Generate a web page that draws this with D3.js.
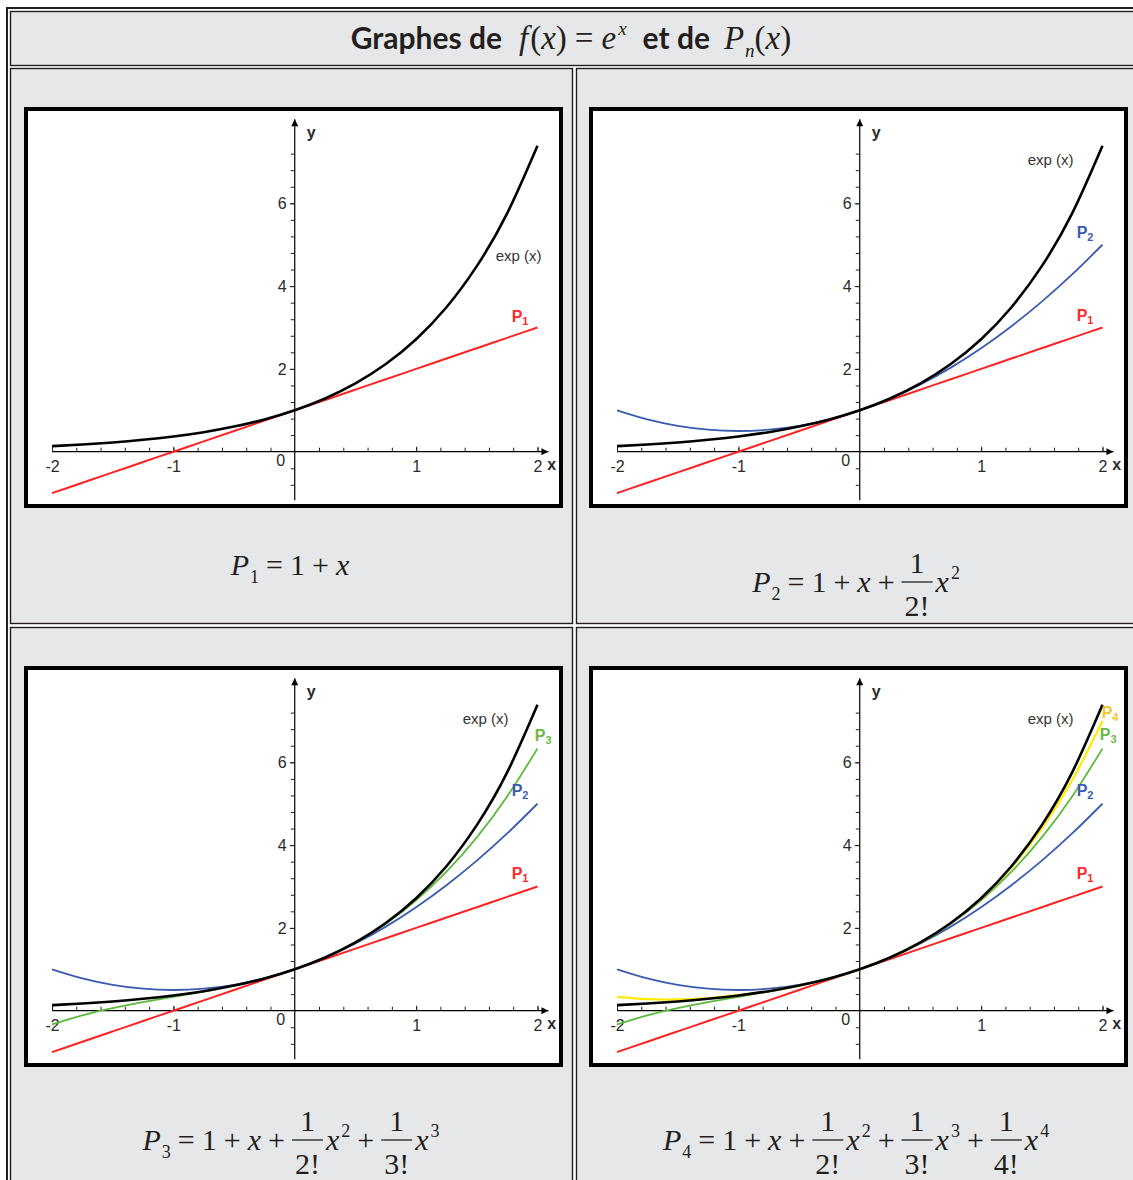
<!DOCTYPE html>
<html>
<head>
<meta charset="utf-8">
<script src="https://cdn.jsdelivr.net/npm/d3@7/dist/d3.min.js"></script>
<style>
  html, body { margin: 0; padding: 0; background: #ffffff; }
  svg { display: block; }
</style>
</head>
<body>
<svg id="chart" width="1133" height="1180"></svg>
<script>
// Sample abscissae shared by every curve
const xValues = [-2, -1.75, -1.5, -1.25, -1, -0.75, -0.5, -0.25, 0, 0.25, 0.5, 0.75, 1, 1.25, 1.5, 1.75, 2];

// f(x) = e^x
const expValues = [0.135, 0.174, 0.223, 0.287, 0.368, 0.472, 0.607, 0.779, 1.000, 1.284, 1.649, 2.117, 2.718, 3.490, 4.482, 5.755, 7.389];
// P1 = 1 + x
const p1Values = [-1, -0.75, -0.5, -0.25, 0, 0.25, 0.5, 0.75, 1, 1.25, 1.5, 1.75, 2, 2.25, 2.5, 2.75, 3];
// P2 = 1 + x + x²/2!
const p2Values = [1.000, 0.781, 0.625, 0.531, 0.500, 0.531, 0.625, 0.781, 1.000, 1.281, 1.625, 2.031, 2.500, 3.031, 3.625, 4.281, 5.000];
// P3 = P2 + x³/3!
const p3Values = [-0.333, -0.112, 0.063, 0.206, 0.333, 0.461, 0.604, 0.779, 1.000, 1.284, 1.646, 2.102, 2.667, 3.357, 4.188, 5.174, 6.333];
// P4 = P3 + x⁴/4!
const p4Values = [0.333, 0.279, 0.273, 0.307, 0.375, 0.474, 0.607, 0.779, 1.000, 1.284, 1.648, 2.115, 2.708, 3.458, 4.398, 5.565, 7.000];

// Axis tick labels
const xTickLabels = [-2, -1, 1, 2];
const yTickLabels = [2, 4, 6];

// Which curves each panel shows (drawing order)
const panelSeries = [
  ["P1", "exp"],
  ["P1", "P2", "exp"],
  ["P1", "P2", "P3", "exp"],
  ["P1", "P2", "P3", "P4", "exp"]
];

const seriesValues = { exp: expValues, P1: p1Values, P2: p2Values, P3: p3Values, P4: p4Values };

// ---- styles / placement ----
const seriesStyle = {
  exp: { color: "#000000", width: 2.6 },
  P1: { color: "#ff2222", width: 2 },
  P2: { color: "#3b5bb0", width: 1.8 },
  P3: { color: "#5cba3c", width: 1.8 },
  P4: { color: "#ffea00", width: 2.2 }
};
const labelColor = { P1: "#ff2a2a", P2: "#3b5bb0", P3: "#6cba45", P4: "#f7c52a" };

// curve labels, in data coordinates (left edge, vertical centre)
const labelPos = [
  { exp: [1.656, 4.73], P1: [1.787, 3.28] },
  { exp: [1.384, 7.05], P2: [1.787, 5.30], P1: [1.787, 3.30] },
  { exp: [1.384, 7.05], P3: [1.977, 6.66], P2: [1.787, 5.32], P1: [1.787, 3.33] },
  { exp: [1.384, 7.05], P4: [1.993, 7.22], P3: [1.977, 6.68], P2: [1.787, 5.32], P1: [1.787, 3.33] }
];

const panelOrigin = [[24, 107], [589, 107], [24, 666], [589, 666]];

const SANS = "'Liberation Sans', Arial, sans-serif";
const SERIF = "'Liberation Serif', 'Times New Roman', serif";
const HEAD = "Lato, 'Open Sans', sans-serif";
const INK = "#231f20";
const CELL = "#e6e7e8";

const svg = d3.select("#chart");

// ---- table frame ----
svg.append("rect").attr("x", 7).attr("y", 8).attr("width", 1200).attr("height", 1300)
  .attr("fill", "#ffffff").attr("stroke", INK).attr("stroke-width", 2);

const cells = [
  [10.5, 11.5, 1200, 54],
  [10.5, 68.5, 562, 555],
  [576.5, 68.5, 700, 555],
  [10.5, 627.5, 562, 700],
  [576.5, 627.5, 700, 700]
];
svg.selectAll("rect.cell").data(cells).join("rect").attr("class", "cell")
  .attr("x", d => d[0]).attr("y", d => d[1]).attr("width", d => d[2]).attr("height", d => d[3])
  .attr("fill", CELL).attr("stroke", INK).attr("stroke-width", 1.4);

// ---- simple inline math layout ----
function typeset(parent, tokens, cx, baseline, cfg) {
  const g = parent.append("g");
  let x = 0;
  const mk = (str, o) => g.append("text")
    .attr("font-family", o.font || SERIF)
    .attr("font-size", o.size || cfg.size)
    .attr("font-style", o.it ? "italic" : "normal")
    .attr("font-weight", o.bold ? "bold" : "normal")
    .attr("fill", cfg.fill)
    .text(str);
  tokens.forEach(tk => {
    if (tk.gap !== undefined) { x += tk.gap; return; }
    if (tk.frac) {
      const num = mk(tk.frac[0], {}), den = mk(tk.frac[1], {});
      const w = Math.max(num.node().getComputedTextLength(), den.node().getComputedTextLength()) + 6;
      num.attr("text-anchor", "middle").attr("x", x + w / 2).attr("y", -cfg.bar - cfg.numGap);
      den.attr("text-anchor", "middle").attr("x", x + w / 2).attr("y", -cfg.bar + cfg.denGap);
      g.append("line").attr("x1", x).attr("x2", x + w).attr("y1", -cfg.bar).attr("y2", -cfg.bar)
        .attr("stroke", cfg.fill).attr("stroke-width", 1.3);
      x += w + 3;
      return;
    }
    let el, dx = 0, dy = 0;
    if (tk.sub !== undefined) {
      el = mk(tk.sub, { it: tk.it, size: cfg.small }); dx = cfg.subDx; dy = cfg.subDy;
    } else if (tk.sup !== undefined) {
      el = mk(tk.sup, { it: tk.it, size: cfg.small }); dx = cfg.supDx; dy = cfg.supDy;
    } else {
      el = mk(tk.s, tk);
    }
    el.attr("x", x + dx).attr("y", dy);
    x += el.node().getComputedTextLength() + dx + (tk.after || 0);
  });
  g.attr("transform", `translate(${cx - x / 2},${baseline})`);
  return g;
}

// ---- title ----
typeset(svg, [
  { s: "Graphes de", font: HEAD, bold: true, size: 30 }, { gap: 17 },
  { s: "f", it: true, after: 2 }, { s: "(" }, { s: "x", it: true }, { s: ")" }, { gap: 8 },
  { s: "=" }, { gap: 8 }, { s: "e", it: true }, { sup: "x", it: true }, { gap: 16 },
  { s: "et de", font: HEAD, bold: true, size: 30 }, { gap: 14 },
  { s: "P", it: true }, { sub: "n", it: true }, { s: "(" }, { s: "x", it: true }, { s: ")" }
], 571, 49, { size: 33, small: 19, fill: INK, subDx: 1, subDy: 8, supDx: 2, supDy: -14, bar: 10, numGap: 8, denGap: 32 });

// ---- formulas under each panel ----
const mathCfg = { size: 30, small: 18, fill: "#231f20", subDx: 1, subDy: 8, supDx: 2, supDy: -13, bar: 10, numGap: 9, denGap: 34 };
const op = s => [{ gap: 7 }, { s }, { gap: 7 }];
const formulas = [
  { cx: 290, base: 575, tokens: [{ s: "P", it: true }, { sub: "1" }, ...op("="), { s: "1" }, ...op("+"), { s: "x", it: true }] },
  { cx: 856, base: 592, tokens: [{ s: "P", it: true }, { sub: "2" }, ...op("="), { s: "1" }, ...op("+"), { s: "x", it: true }, ...op("+"),
      { frac: ["1", "2!"] }, { s: "x", it: true }, { sup: "2" }] },
  { cx: 291, base: 1150, tokens: [{ s: "P", it: true }, { sub: "3" }, ...op("="), { s: "1" }, ...op("+"), { s: "x", it: true }, ...op("+"),
      { frac: ["1", "2!"] }, { s: "x", it: true }, { sup: "2" }, ...op("+"), { frac: ["1", "3!"] }, { s: "x", it: true }, { sup: "3" }] },
  { cx: 856, base: 1150, tokens: [{ s: "P", it: true }, { sub: "4" }, ...op("="), { s: "1" }, ...op("+"), { s: "x", it: true }, ...op("+"),
      { frac: ["1", "2!"] }, { s: "x", it: true }, { sup: "2" }, ...op("+"), { frac: ["1", "3!"] }, { s: "x", it: true }, { sup: "3" }, ...op("+"),
      { frac: ["1", "4!"] }, { s: "x", it: true }, { sup: "4" }] }
];
formulas.forEach(f => typeset(svg, f.tokens, f.cx, f.base, mathCfg));

// ---- plot panels ----
svg.append("defs").append("marker").attr("id", "arrow")
  .attr("viewBox", "0 0 10 10").attr("refX", 10).attr("refY", 5)
  .attr("markerWidth", 9).attr("markerHeight", 7).attr("markerUnits", "userSpaceOnUse")
  .attr("orient", "auto")
  .append("path").attr("d", "M0,0 L10,5 L0,10 Z").attr("fill", "#000");

panelOrigin.forEach(([px, py], i) => {
  const g = svg.append("g");

  g.append("rect").attr("x", px + 2).attr("y", py + 2).attr("width", 535).attr("height", 397)
    .attr("fill", "#ffffff").attr("stroke", "#000").attr("stroke-width", 4);

  const x = d3.scaleLinear().domain([-2, 2]).range([px + 28, px + 513.5]);
  const y = d3.scaleLinear().domain([0, 6]).range([py + 344.7, py + 96.3]);

  const x0 = x(0), y0 = y(0);

  // axis lines with arrows
  g.append("line").attr("x1", x(-2)).attr("x2", x(2.09)).attr("y1", y0).attr("y2", y0)
    .attr("stroke", "#000").attr("stroke-width", 1.2).attr("marker-end", "url(#arrow)");
  g.append("line").attr("x1", x0).attr("x2", x0).attr("y1", y(-1.17)).attr("y2", y(8.03))
    .attr("stroke", "#000").attr("stroke-width", 1.2).attr("marker-end", "url(#arrow)");

  // x ticks: minor every 0.2, labelled integers
  const xMinor = d3.range(-10, 11).map(k => k / 5).filter(v => v !== 0);
  const axMinorX = g.append("g").attr("transform", `translate(0,${y0})`)
    .call(d3.axisBottom(x).tickValues(xMinor).tickSize(-4).tickFormat(""));
  const axMajorX = g.append("g").attr("transform", `translate(0,${y0})`)
    .call(d3.axisBottom(x).tickValues(xTickLabels).tickSize(-5).tickPadding(9).tickFormat(d3.format("d")));

  // y ticks: minor every 0.4, labelled even values
  const yMinor = d3.range(-2, 19).map(k => +(k * 0.4).toFixed(1)).filter(v => v !== 0);
  const axMinorY = g.append("g").attr("transform", `translate(${x0},0)`)
    .call(d3.axisLeft(y).tickValues(yMinor).tickSize(4).tickFormat(""));
  const axMajorY = g.append("g").attr("transform", `translate(${x0},0)`)
    .call(d3.axisLeft(y).tickValues(yTickLabels).tickSize(5).tickPadding(3).tickFormat(d3.format("d")));

  [axMinorX, axMajorX, axMinorY, axMajorY].forEach(a => {
    a.select(".domain").remove();
    a.selectAll("line").attr("stroke", "#222").attr("stroke-width", 1);
    a.selectAll("text").attr("font-family", SANS).attr("font-size", 16).attr("fill", "#2a2a2a");
  });
  axMajorX.selectAll("text").text(d => d < 0 ? "-" + Math.abs(d) : d);

  g.append("text").attr("x", x0 - 14).attr("y", y0 + 9).attr("text-anchor", "middle")
    .attr("dominant-baseline", "central").attr("font-family", SANS).attr("font-size", 16)
    .attr("fill", "#2a2a2a").text("0");
  g.append("text").attr("x", x0 + 12).attr("y", y(7.7)).attr("dominant-baseline", "central")
    .attr("font-family", SANS).attr("font-size", 16).attr("font-weight", "bold").attr("fill", "#2a2a2a").text("y");
  g.append("text").attr("x", x(2.08)).attr("y", y0 + 13).attr("dominant-baseline", "central")
    .attr("font-family", SANS).attr("font-size", 16).attr("font-weight", "bold").attr("fill", "#2a2a2a").text("x");

  // curves
  const line = d3.line().x((d, k) => x(xValues[k])).y(d => y(d)).curve(d3.curveNatural);
  panelSeries[i].forEach(name => {
    g.append("path").datum(seriesValues[name]).attr("d", line)
      .attr("fill", "none").attr("stroke", seriesStyle[name].color)
      .attr("stroke-width", seriesStyle[name].width).attr("stroke-linejoin", "round");
  });

  // curve labels
  const lp = labelPos[i];
  Object.keys(lp).forEach(name => {
    const [lx, ly] = lp[name];
    if (name === "exp") {
      g.append("text").attr("x", x(lx)).attr("y", y(ly)).attr("dominant-baseline", "central")
        .attr("font-family", SANS).attr("font-size", 15).attr("fill", "#333").text("exp (x)");
    } else {
      const t = g.append("text").attr("x", x(lx)).attr("y", y(ly)).attr("dominant-baseline", "central")
        .attr("font-family", SANS).attr("font-size", 16).attr("font-weight", "bold").attr("fill", labelColor[name]);
      t.append("tspan").text("P");
      t.append("tspan").attr("font-size", 11).attr("dy", 5).text(name.slice(1));
    }
  });
});
</script>
</body>
</html>
